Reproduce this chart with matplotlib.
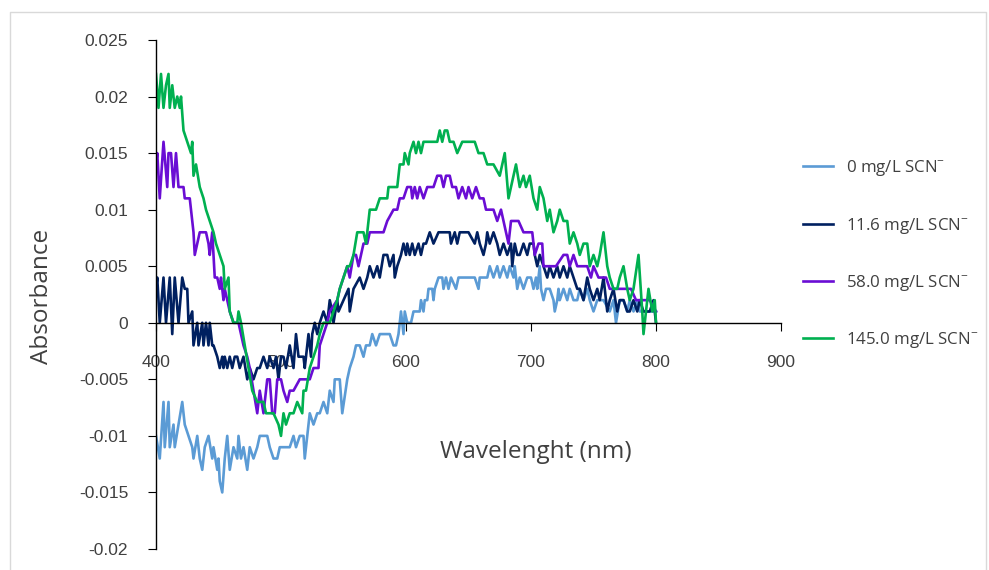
import matplotlib
matplotlib.use('Agg')
import matplotlib.pyplot as plt
import numpy as np

# absorbance values are in units of 0.001
nm_0 = [400, 403, 406, 407, 410, 411, 414, 415, 418, 421, 423, 426, 429, 430, 433, 435, 437, 439, 442, 445,
        446, 449, 450, 451, 453, 455, 457, 459, 462, 465, 466, 468, 470, 473, 475, 478, 481, 483, 486, 489,
        491, 494, 497, 499, 502, 507, 510, 512, 515, 518, 519, 522, 523, 526, 529, 531, 534, 537, 539, 542,
        543, 547, 549, 553, 555, 558, 560, 563, 566, 568, 571, 573, 576, 579, 581, 585, 587, 590, 592, 594,
        596, 598, 599, 601, 604, 606, 609, 611, 612, 614, 615, 617, 618, 621, 622, 623, 626, 629, 630, 632,
        634, 636, 640, 642, 645, 650, 655, 658, 659, 662, 665, 667, 670, 673, 675, 678, 681, 683, 686, 687,
        689, 691, 694, 697, 700, 702, 704, 705, 707, 708, 710, 712, 715, 718, 719, 721, 722, 723, 726, 729,
        731, 734, 737, 739, 742, 745, 747, 750, 753, 758, 763, 766, 768, 771, 774, 777, 779, 782, 785, 787,
        790, 795, 800]
abs_0 = [-10, -12, -7, -11, -7, -11, -9, -11, -9, -7, -9, -10, -11, -12, -10, -12, -13, -11, -10, -12,
         -11, -13, -12, -14, -15, -12, -10, -13, -11, -12, -10, -12, -11, -13, -11, -12, -11, -10, -10, -10,
         -11, -12, -12, -11, -11, -11, -10, -11, -10, -10, -12, -9, -8, -9, -8, -8, -7, -8, -6, -7,
         -5, -5, -8, -5, -4, -3, -2, -2, -3, -2, -2, -1, -2, -1, -1, -1, -1, -2, -2, -1,
         1, -1, 1, 0, 0, 1, 1, 1, 2, 1, 2, 2, 3, 3, 2, 3, 4, 4, 3, 4,
         3, 4, 3, 4, 4, 4, 4, 3, 4, 4, 4, 5, 4, 5, 4, 5, 4, 5, 4, 5,
         3, 4, 3, 4, 4, 3, 4, 3, 5, 3, 2, 3, 3, 2, 1, 2, 3, 2, 3, 2,
         3, 2, 2, 3, 2, 3, 2, 1, 2, 2, 1, 2, 0, 2, 2, 1, 2, 1, 2, 1,
         1, 1, 1]

nm_11 = [400, 401, 403, 406, 408, 411, 413, 415, 418, 421, 423, 425, 426, 429, 430, 433, 434, 437, 438, 440,
         442, 443, 445, 446, 449, 451, 453, 454, 455, 457, 459, 461, 463, 465, 467, 470, 473, 475, 478, 481,
         483, 486, 489, 491, 494, 496, 498, 500, 502, 504, 507, 510, 512, 514, 515, 518, 519, 521, 522, 524,
         525, 527, 529, 531, 534, 537, 539, 541, 542, 545, 546, 550, 554, 555, 558, 563, 566, 569, 571, 574,
         577, 579, 582, 585, 587, 590, 591, 593, 596, 598, 600, 601, 603, 605, 607, 610, 612, 614, 616, 619,
         622, 626, 635, 636, 639, 641, 643, 650, 655, 657, 659, 662, 664, 665, 667, 670, 673, 675, 678, 681,
         684, 685, 687, 689, 691, 694, 697, 699, 702, 703, 705, 707, 710, 713, 715, 718, 721, 723, 726, 729,
         731, 734, 737, 739, 742, 745, 747, 750, 753, 755, 758, 761, 763, 766, 769, 771, 774, 777, 779, 782,
         785, 787, 790, 793, 795, 798, 800]
abs_11 = [3, 4, 0, 4, 0, 4, -1, 4, 0, 4, 3, 3, 0, 1, -2, 0, -2, 0, -2, 0,
          -2, 0, -2, -2, -3, -4, -3, -4, -3, -4, -3, -4, -3, -3, -4, -3, -5, -4, -5, -4,
          -4, -3, -4, -3, -4, -3, -5, -3, -3, -4, -2, -4, -1, -3, -3, -3, -4, -2, -1, -3,
          -1, 0, -1, 0, 1, 0, 2, 1, 0, 2, 1, 2, 3, 1, 3, 4, 3, 4, 5, 4,
          5, 4, 6, 6, 5, 6, 4, 5, 6, 7, 6, 7, 6, 7, 6, 7, 6, 7, 7, 8,
          7, 8, 8, 7, 8, 7, 8, 8, 7, 8, 7, 6, 7, 8, 7, 8, 7, 6, 7, 6,
          7, 5, 7, 6, 6, 7, 6, 7, 7, 6, 5, 6, 5, 4, 5, 4, 5, 4, 5, 4,
          5, 4, 3, 3, 2, 4, 3, 2, 3, 2, 4, 1, 2, 3, 1, 2, 2, 1, 1, 2,
          1, 2, 1, 1, 1, 2, 0]

nm_58 = [400, 401, 403, 406, 409, 410, 412, 414, 416, 418, 422, 423, 427, 428, 430, 431, 433, 435, 440, 442,
         443, 445, 446, 447, 449, 451, 452, 454, 455, 459, 462, 466, 470, 473, 475, 478, 481, 483, 486, 489,
         491, 493, 495, 497, 500, 502, 505, 507, 510, 515, 523, 526, 530, 531, 534, 537, 539, 545, 547, 550,
         553, 555, 558, 560, 562, 566, 569, 571, 582, 585, 590, 593, 595, 598, 601, 604, 605, 607, 609, 611,
         614, 617, 620, 622, 625, 628, 630, 632, 635, 637, 640, 642, 645, 648, 650, 653, 656, 659, 662, 664,
         667, 670, 673, 676, 678, 680, 682, 684, 690, 694, 697, 699, 701, 703, 706, 709, 710, 715, 720, 726,
         729, 731, 734, 737, 745, 748, 750, 754, 760, 763, 770, 775, 780, 784, 790, 795, 800]
abs_58 = [14, 15, 11, 16, 12, 15, 15, 12, 15, 12, 12, 11, 11, 10, 8, 6, 7, 8, 8, 7,
          6, 8, 6, 4, 4, 3, 4, 2, 3, 1, 0, 0, -2, -3, -4, -6, -8, -6, -8, -5,
          -5, -8, -8, -5, -5, -6, -7, -6, -6, -5, -5, -4, -4, -2, -1, 0, 1, 2, 3, 4,
          5, 4, 6, 6, 5, 7, 7, 8, 8, 9, 10, 10, 11, 11, 12, 12, 11, 12, 11, 12,
          11, 12, 12, 12, 13, 13, 12, 13, 13, 12, 12, 11, 12, 11, 12, 11, 12, 11, 11, 10,
          10, 10, 9, 10, 9, 8, 7, 9, 9, 8, 8, 8, 8, 6, 7, 7, 5, 5, 5, 6,
          6, 5, 6, 5, 5, 4, 5, 4, 4, 3, 3, 3, 3, 2, 2, 2, 1]

nm_145 = [400, 402, 404, 406, 408, 410, 411, 413, 415, 417, 419, 420, 422, 425, 428, 429, 430, 432, 435, 438,
          440, 443, 446, 448, 451, 454, 455, 458, 459, 462, 465, 466, 468, 471, 474, 477, 481, 486, 488, 494,
          498, 500, 502, 504, 507, 510, 513, 517, 518, 520, 523, 526, 529, 531, 534, 537, 539, 542, 545, 547,
          550, 553, 555, 558, 561, 566, 568, 571, 576, 579, 585, 586, 593, 595, 598, 599, 602, 603, 606, 608,
          610, 612, 614, 620, 625, 627, 629, 631, 633, 635, 638, 641, 645, 650, 655, 658, 662, 665, 670, 675,
          679, 682, 686, 688, 691, 694, 696, 699, 702, 705, 707, 710, 713, 715, 718, 721, 723, 726, 729, 731,
          734, 737, 739, 742, 745, 747, 750, 753, 755, 758, 761, 763, 766, 769, 771, 774, 777, 779, 782, 786,
          789, 790, 793, 794, 797, 799, 800]
abs_145 = [22, 19, 22, 19, 21, 22, 19, 21, 19, 20, 19, 20, 17, 16, 15, 16, 13, 14, 12, 11,
           10, 9, 8, 7, 6, 5, 3, 4, 1, 0, 0, 1, 0, -2, -4, -6, -7, -7, -8, -8,
           -9, -10, -8, -9, -8, -8, -7, -8, -6, -6, -4, -3, -2, -1, 0, 0, 0, 1, 2, 3,
           4, 5, 5, 6, 8, 8, 7, 10, 10, 11, 11, 12, 12, 14, 14, 15, 14, 15, 16, 15,
           16, 15, 16, 16, 16, 17, 16, 17, 17, 16, 16, 15, 16, 16, 16, 15, 15, 14, 14, 13,
           15, 11, 13, 14, 12, 13, 12, 13, 11, 10, 12, 11, 9, 10, 8, 9, 10, 9, 9, 7,
           8, 7, 6, 7, 7, 5, 6, 5, 6, 8, 5, 4, 3, 3, 4, 5, 3, 2, 3, 6,
           1, -1, 2, 3, 1, 2, 0]

labels = ['0 mg/L SCN$^{-}$', '11.6 mg/L SCN$^{-}$', '58.0 mg/L SCN$^{-}$', '145.0 mg/L SCN$^{-}$']
colors = ['#5B9BD5', '#002060', '#6A0DD4', '#00B050']
yticks = [-0.02, -0.015, -0.01, -0.005, 0, 0.005, 0.01, 0.015, 0.02, 0.025]
ytick_labels = ['-0.02', '-0.015', '-0.01', '-0.005', '0', '0.005', '0.01', '0.015', '0.02', '0.025']
xticks = [400, 500, 600, 700, 800, 900]

plt.rcParams['mathtext.fontset'] = 'custom'
plt.rcParams['mathtext.rm'] = 'Open Sans'
plt.rcParams['mathtext.it'] = 'Open Sans'
plt.rcParams['mathtext.default'] = 'rm'

txt = '#404040'
fig = plt.figure(figsize=(9.89, 5.70), dpi=100)
ax = fig.add_axes([156/989, 1-549/570, (781-156)/989, (549-40)/570])

series = [(nm_0, abs_0), (nm_11, abs_11), (nm_58, abs_58), (nm_145, abs_145)]
for (x, y), lab, c in zip(series, labels, colors):
    ax.plot(x, np.array(y) / 1000, color=c, lw=1.9, label=lab)

ax.set_xlim(400, 900)
ax.set_ylim(-0.02, 0.025)
ax.spines['top'].set_visible(False)
ax.spines['right'].set_visible(False)
ax.spines['bottom'].set_position(('data', 0))
ax.spines['left'].set_linewidth(1.0)
ax.spines['bottom'].set_linewidth(1.0)
ax.set_xticks(xticks)
ax.set_xticklabels([str(t) for t in xticks], fontsize=12.5, color=txt, family='Liberation Sans')
ax.set_yticks(yticks)
ax.set_yticklabels(ytick_labels, fontsize=12.5, color=txt, family='Liberation Sans')
ax.tick_params(axis='x', direction='out', length=6, pad=17)
ax.tick_params(axis='y', direction='out', length=6, pad=14)

fig.text(42/989, 1-296/570, 'Absorbance', rotation=90, ha='center', va='center',
         fontsize=17.5, color=txt, family='Open Sans')
fig.text(536/989, 1-452/570, 'Wavelenght (nm)', ha='center', va='center',
         fontsize=17.5, color=txt, family='Open Sans')

leg = ax.legend(loc='upper left', bbox_to_anchor=(788/989, 1-143/570), bbox_transform=fig.transFigure,
                frameon=False, labelspacing=2.2, handlelength=1.75, handletextpad=0.75,
                prop={'family': ['Open Sans', 'DejaVu Sans'], 'size': 12.2})
for t in leg.get_texts():
    t.set_color(txt)

# chart area border
fig.add_artist(plt.Line2D([10/989, 10/989, 986/989, 986/989], [0, 1-12/570, 1-12/570, 0],
                          transform=fig.transFigure, color='#D9D9D9', lw=1))

fig.savefig('out.png', dpi=100)
